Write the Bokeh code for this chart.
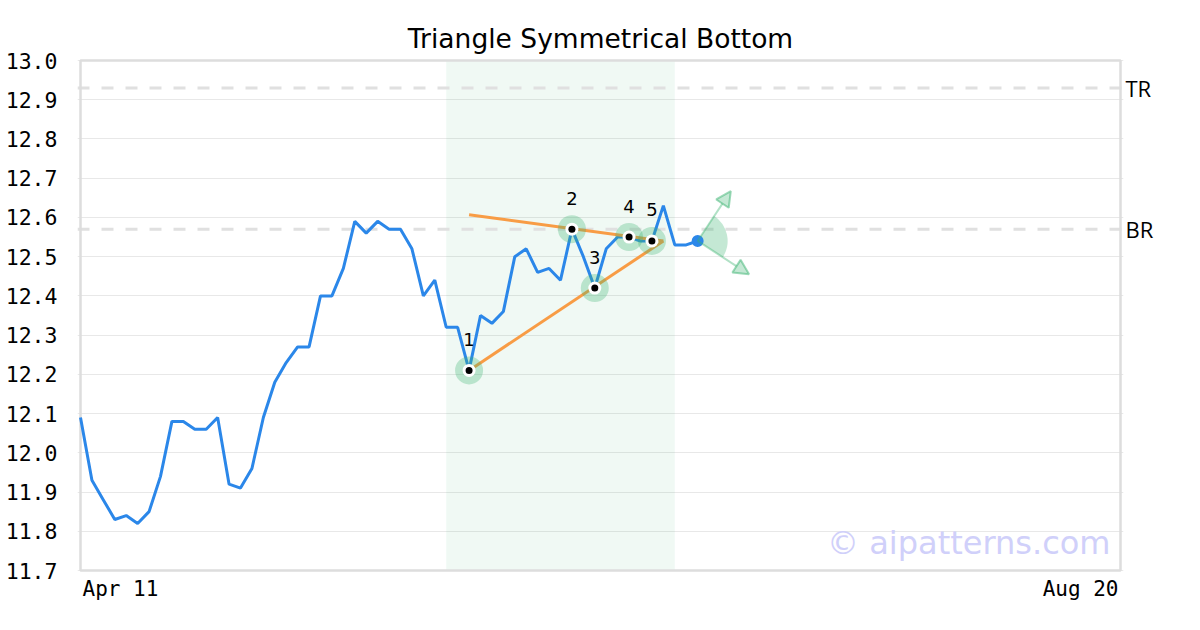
import math
from bokeh.plotting import figure
from bokeh.models import (Range1d, FixedTicker, NumeralTickFormatter, Span, Label,
                          BoxAnnotation, Arrow, NormalHead, LinearAxis)
from bokeh.core.properties import value
from bokeh.embed import file_html
from bokeh.resources import INLINE

# ---------------- data ----------------
prices = [12.09, 11.93, 11.88, 11.83, 11.84, 11.82, 11.85, 11.94, 12.08, 12.08,
          12.06, 12.06, 12.09, 11.92, 11.91, 11.96, 12.09, 12.18, 12.23, 12.27,
          12.27, 12.40, 12.40, 12.47, 12.59, 12.56, 12.59, 12.57, 12.57, 12.52,
          12.40, 12.44, 12.32, 12.32, 12.21, 12.35, 12.33, 12.36, 12.50, 12.52,
          12.46, 12.47, 12.44, 12.57, 12.50, 12.42, 12.52, 12.55, 12.55, 12.54,
          12.54, 12.63, 12.53, 12.53, 12.54]
n_slots = 92                       # x axis spans Apr 11 .. Aug 20 (index 0..91)
x_labels = ["Apr 11", "Aug 20"]
y_min, y_max = 11.7, 13.0
y_ticks = [11.7, 11.8, 11.9, 12.0, 12.1, 12.2, 12.3, 12.4, 12.5, 12.6, 12.7, 12.8, 12.9, 13.0]

pattern_start, pattern_end = 32, 52
pivot_idx = [34, 43, 45, 48, 50]
pivot_names = ["1", "2", "3", "4", "5"]

upper_line_x = [34, 51]
upper_line_y = [12.607, 12.54]
lower_line_x = [34, 51]
lower_line_y = [12.21, 12.54]

level_values = [12.93, 12.57]
level_names = ["TR", "BR"]

arrow_up_end = (56.9, 12.667)
arrow_down_end = (58.5, 12.455)
wedge_angles_deg = (-33, 57)

title = "Triangle Symmetrical Bottom"
watermark = "© aipatterns.com"

# ---------------- layout / styling ----------------
W, H = 1200, 630
PLOT_L, PLOT_T, PLOT_R, PLOT_B = 80, 60, 1120, 570   # chart box in pixels
PAD = 3                                              # frame padding round the box
BLUE = "#2b87e9"
ORANGE = "#f89c45"
GREEN = "#3cb371"
BORDER = "#dddddd"
MONO = "DejaVu Sans Mono"

x_last = n_slots - 1
px_x = (PLOT_R - PLOT_L) / x_last
px_y = (PLOT_B - PLOT_T) / (y_max - y_min)
x_range = Range1d(0 - PAD / px_x, x_last + PAD / px_x)
y_range = Range1d(y_min - (H - PLOT_B) / px_y, y_max + PAD / px_y)

xs = list(range(len(prices)))
piv_y = [prices[i] for i in pivot_idx]

p = figure(width=W, height=H, output_backend="svg", toolbar_location=None,
           x_range=x_range, y_range=y_range,
           min_border_left=PLOT_L - PAD, min_border_right=W - PLOT_R - PAD,
           min_border_top=PLOT_T - PAD, min_border_bottom=0)

p.title.text = title
p.title.text_font = "DejaVu Sans"
p.title.text_font_size = "26.5px"
p.title.text_font_style = "normal"
p.title.align = "center"
p.title.text_color = "black"
p.title.standoff = 7

p.outline_line_color = None
p.background_fill_color = "white"
p.border_fill_color = "white"

p.xaxis.visible = False
p.xgrid.visible = False
p.ygrid.ticker = FixedTicker(ticks=y_ticks)
p.ygrid.grid_line_color = "#e8e8e8"
p.ygrid.grid_line_width = 1

ya = p.yaxis[0]
ya.ticker = FixedTicker(ticks=y_ticks)
ya.formatter = NumeralTickFormatter(format="0.0")
ya.axis_line_color = None
ya.major_tick_line_color = None
ya.minor_tick_line_color = None
ya.major_tick_out = 0
ya.major_tick_in = 0
ya.major_label_standoff = 23 - PAD
ya.major_label_text_font = MONO
ya.major_label_text_font_size = "21.5px"
ya.major_label_text_color = "black"

# level names on a right-hand axis
ra = LinearAxis(ticker=FixedTicker(ticks=level_values),
                major_label_overrides=dict(zip(level_values, level_names)))
ra.axis_line_color = None
ra.major_tick_line_color = None
ra.minor_tick_line_color = None
ra.major_tick_out = 0
ra.major_tick_in = 0
ra.major_label_standoff = 5 - PAD
ra.major_label_text_font = "Open Sans"
ra.major_label_text_font_size = "22px"
ra.major_label_text_color = "black"
p.add_layout(ra, "right")

# pattern zone
p.add_layout(BoxAnnotation(left=pattern_start, right=pattern_end, bottom=y_min, top=y_max,
                           fill_color=GREEN, fill_alpha=0.08, line_color=None,
                           level="underlay"))

# resistance levels
for lvl in level_values:
    p.add_layout(Span(location=lvl, dimension="width", line_color="#e0e0e0",
                      line_width=3, line_dash="12 12", level="underlay"))

# chart border
p.quad(left=[0], right=[x_last], bottom=[y_min], top=[y_max], fill_color=None,
       line_color=BORDER, line_width=2.5)

# price line
p.line(xs, prices, line_color=BLUE, line_width=3)

# triangle trend lines
p.line(upper_line_x, upper_line_y, line_color=ORANGE, line_width=3)
p.line(lower_line_x, lower_line_y, line_color=ORANGE, line_width=3)

# pivots
p.scatter(pivot_idx, piv_y, size=28, fill_color=GREEN, fill_alpha=0.3, line_color=None)
p.scatter(pivot_idx, piv_y, size=13, fill_color="white", line_color=None)
p.scatter(pivot_idx, piv_y, size=7, fill_color="black", line_color=None)
p.text(pivot_idx, piv_y, text=pivot_names, y_offset=-31, text_align="center",
       text_baseline="middle", text_font=value("DejaVu Sans"),
       text_font_size="18px", text_color="black")

# projection
last_x, last_y = xs[-1], prices[-1]
p.wedge([last_x], [last_y], radius=30, radius_units="screen",
        start_angle=math.radians(wedge_angles_deg[0]),
        end_angle=math.radians(wedge_angles_deg[1]),
        fill_color=GREEN, fill_alpha=0.3, line_color=None)
for end in (arrow_up_end, arrow_down_end):
    p.add_layout(Arrow(x_start=last_x, y_start=last_y, x_end=end[0], y_end=end[1],
                       line_color=GREEN, line_alpha=0.4, line_width=2,
                       end=NormalHead(size=15, fill_color=GREEN, fill_alpha=0.3,
                                      line_color=GREEN, line_alpha=0.5, line_width=2)))
p.scatter([last_x], [last_y], size=12, fill_color=BLUE, line_color=None)

# x labels (first and last date)
p.add_layout(Label(x=0, y=y_min, text=x_labels[0], x_offset=2, y_offset=-18,
                   text_align="left", text_baseline="middle", text_font=MONO,
                   text_font_size="21px", text_color="black"))
p.add_layout(Label(x=x_last, y=y_min, text=x_labels[1], x_offset=-2, y_offset=-18,
                   text_align="right", text_baseline="middle", text_font=MONO,
                   text_font_size="21px", text_color="black"))

# watermark
p.add_layout(Label(x=x_last, y=y_min, text=watermark, x_offset=-10, y_offset=28,
                   text_align="right", text_baseline="middle", text_font="DejaVu Sans",
                   text_font_size="32px", text_color="#d0d0fa"))

open("out.html", "w").write(file_html(p, INLINE))
